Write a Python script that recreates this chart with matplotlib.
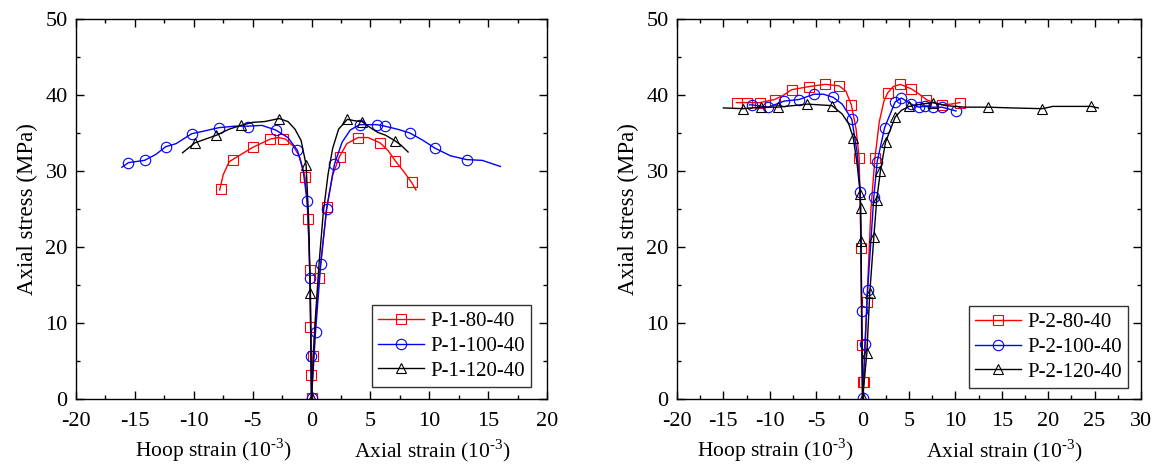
import matplotlib
matplotlib.use("Agg")
import matplotlib.pyplot as plt
from matplotlib.ticker import MultipleLocator

plt.rcParams['font.family'] = ['Liberation Serif', 'DejaVu Serif']
plt.rcParams['mathtext.fontset'] = 'custom'
plt.rcParams['mathtext.rm'] = 'Liberation Serif'
plt.rcParams['axes.unicode_minus'] = False
plt.rcParams['font.size'] = 15

# ---------------- left panel (P-1 series) ----------------
# hoop strain plotted as negative x, axial strain as positive x (10^-3), stress in MPa
p1_80_x = [-7.8, -7.5, -7.0, -6.6, -5.0, -3.5, -2.8, -2.2, -1.5, -1.0, -0.55, -0.3, -0.15, -0.05, 0,
           0.12, 0.64, 1.31, 1.8, 2.38, 3.0, 3.96, 4.8, 5.82, 6.5, 7.13, 7.8, 8.5, 8.87]
p1_80_y = [27.5, 29.5, 31.2, 31.6, 33.1, 34.2, 34.4, 34.2, 33.2, 31.8, 29.2, 24.5, 17.0, 8.0, 0,
           5.6, 15.9, 25.3, 29.5, 31.9, 33.6, 34.4, 34.4, 33.7, 32.7, 31.3, 30.0, 28.5, 27.5]
p1_80_mx = [-7.71, -6.65, -5.0, -3.5, -2.38, -0.55, -0.27, -0.15, -0.09, -0.03, 0,
            0.12, 0.64, 1.31, 2.38, 3.96, 5.82, 7.13, 8.5]
p1_80_my = [27.6, 31.4, 33.1, 34.2, 34.2, 29.2, 23.7, 17.0, 9.5, 3.2, 0.1,
            5.6, 15.9, 25.3, 31.9, 34.4, 33.7, 31.3, 28.5]

p1_100_x = [-16.1, -15.55, -14.18, -13.2, -12.38, -11.5, -10.18, -9.0, -7.87, -6.5, -5.4, -4.2, -3.05,
            -2.0, -1.19, -0.7, -0.37, -0.2, -0.12, -0.05, 0,
            0.34, 0.79, 1.28, 1.95, 2.6, 3.3, 4.09, 5.55, 6.22, 7.3, 8.35, 9.4, 10.49, 11.8, 13.17,
            14.5, 16.04]
p1_100_y = [30.5, 31.1, 31.4, 32.2, 33.2, 33.6, 34.9, 35.3, 35.7, 35.9, 35.9, 36.0, 35.4,
            34.4, 32.7, 30.0, 26.0, 20.0, 14.0, 6.0, 0,
            8.8, 17.8, 25.0, 30.9, 33.8, 35.4, 36.1, 36.1, 35.9, 35.5, 35.0, 34.1, 33.0, 32.0, 31.5,
            31.4, 30.6]
p1_100_mx = [-15.55, -14.18, -12.38, -10.18, -7.87, -5.4, -3.05, -1.19, -0.37, -0.15, -0.03, 0,
             0.34, 0.79, 1.28, 1.95, 4.09, 5.55, 6.22, 8.35, 10.49, 13.17]
p1_100_my = [31.1, 31.4, 33.2, 34.9, 35.7, 35.8, 35.4, 32.7, 26.0, 15.9, 5.6, 0.1,
             8.8, 17.8, 25.0, 30.9, 36.1, 36.1, 35.9, 35.0, 33.0, 31.5]

p1_120_x = [-10.95, -9.91, -9.0, -8.08, -7.0, -6.0, -5.0, -4.0, -2.74, -2.0, -1.4, -0.88, -0.46,
            -0.25, -0.09, 0,
            0.3, 0.65, 1.0, 1.4, 1.8, 2.3, 3.05, 3.7, 4.3, 5.0, 5.6, 6.3, 7.07, 7.6, 8.2]
p1_120_y = [32.4, 33.7, 34.2, 34.7, 35.5, 36.0, 36.4, 36.5, 36.9, 36.5, 35.5, 34.0, 30.8,
            24.0, 13.9, 0,
            10.0, 18.0, 24.5, 29.5, 33.0, 35.5, 36.8, 36.6, 36.5, 35.7, 35.1, 34.7, 34.0, 33.4, 32.5]
p1_120_mx = [-9.91, -8.08, -6.0, -2.74, -0.46, -0.09, 0, 3.05, 4.3, 7.07]
p1_120_my = [33.7, 34.7, 36.0, 36.9, 30.8, 13.9, 0.1, 36.8, 36.5, 34.0]

# ---------------- right panel (P-2 series) ----------------
p2_80_x = [-13.6, -12.43, -11.08, -9.49, -8.5, -7.63, -5.81, -4.03, -2.52, -1.8, -1.21, -0.7, -0.37,
           -0.17, -0.1, 0,
           0.14, 0.46, 0.9, 1.33, 1.8, 2.3, 2.71, 3.3, 4.07, 5.26, 6.0, 6.88, 7.6, 8.59, 9.5, 10.49]
p2_80_y = [39.0, 39.0, 39.0, 39.4, 40.0, 40.7, 41.1, 41.4, 41.2, 40.5, 38.7, 35.5, 31.7,
           19.9, 7.1, 0,
           2.3, 12.8, 25.0, 31.7, 36.5, 39.2, 40.3, 41.1, 41.4, 40.8, 40.2, 39.4, 39.0, 38.7, 38.8, 39.0]
p2_80_mx = [-13.58, -12.43, -11.08, -9.49, -7.63, -5.81, -4.03, -2.52, -1.21, -0.37, -0.17, -0.1, 0,
            0.14, 0.46, 1.33, 2.71, 4.07, 5.26, 6.88, 8.59, 10.49]
p2_80_my = [38.95, 39.0, 39.0, 39.4, 40.7, 41.1, 41.4, 41.2, 38.7, 31.7, 19.9, 7.1, 2.3,
            2.3, 12.8, 31.7, 40.3, 41.4, 40.8, 39.4, 38.7, 39.0]

p2_100_x = [-12.2, -11.9, -10.16, -8.45, -6.87, -5.24, -4.2, -3.18, -2.2, -1.16, -0.6, -0.25, -0.1, 0,
            0.25, 0.54, 1.21, 1.57, 2.37, 3.51, 4.19, 5.26, 6.05, 6.68, 7.55, 8.54, 10.06]
p2_100_y = [38.7, 38.7, 38.4, 39.2, 39.4, 40.1, 40.1, 39.7, 38.8, 36.8, 32.5, 27.3, 11.6, 0,
            7.2, 14.3, 26.6, 31.2, 35.7, 39.1, 39.6, 38.8, 38.4, 38.5, 38.4, 38.4, 37.9]
p2_100_mx = [-11.9, -10.16, -8.45, -6.87, -5.24, -3.18, -1.16, -0.25, -0.1, 0,
             0.25, 0.54, 1.21, 1.57, 2.37, 3.51, 4.19, 5.26, 6.05, 6.68, 7.55, 8.54, 10.06]
p2_100_my = [38.7, 38.4, 39.2, 39.4, 40.1, 39.7, 36.8, 27.3, 11.6, 0.1,
             7.2, 14.3, 26.6, 31.2, 35.7, 39.1, 39.6, 38.8, 38.4, 38.5, 38.4, 38.4, 37.9]

p2_120_x = [-15.0, -12.9, -11.0, -9.17, -7.5, -5.96, -3.3, -2.2, -1.5, -1.01, -0.6, -0.25, -0.21,
            -0.17, -0.08, 0,
            0.46, 0.77, 1.21, 1.52, 1.92, 2.47, 3.51, 4.2, 5.02, 6.3, 7.59, 9.0, 11.0, 13.47, 16.0,
            19.37, 20.5, 24.6, 25.4]
p2_120_y = [38.3, 38.2, 38.4, 38.4, 38.6, 38.8, 38.6, 37.5, 36.2, 34.4, 31.0, 27.0, 25.1,
            20.8, 10.0, 0,
            6.1, 13.9, 21.3, 26.2, 30.0, 33.8, 37.1, 38.0, 38.5, 38.8, 39.0, 38.6, 38.4, 38.4, 38.3,
            38.2, 38.5, 38.5, 38.3]
p2_120_mx = [-12.9, -11.0, -9.17, -5.96, -3.3, -1.01, -0.25, -0.21, -0.17, 0,
             0.46, 0.77, 1.21, 1.52, 1.92, 2.47, 3.51, 5.02, 7.59, 13.47, 19.37, 24.6]
p2_120_my = [38.2, 38.4, 38.4, 38.8, 38.6, 34.4, 27.0, 25.1, 20.8, 0.1,
             6.1, 13.9, 21.3, 26.2, 30.0, 33.8, 37.1, 38.5, 39.0, 38.4, 38.2, 38.5]

labels1 = ["P-1-80-40", "P-1-100-40", "P-1-120-40"]
labels2 = ["P-2-80-40", "P-2-100-40", "P-2-120-40"]
colors = ["#ff0000", "#0000ff", "#000000"]
markers = ["s", "o", "^"]


def draw_series(ax, lx, ly, mx, my, color, marker, label):
    ax.plot(lx, ly, color=color, lw=1.0)
    ax.plot(mx, my, ls="none", marker=marker, ms=7.5, mfc="none", mec=color, mew=0.8)
    # legend proxy
    ax.plot([], [], color=color, lw=1.0, marker=marker, ms=7.5, mfc="none", mec=color,
            mew=0.8, label=label)


def style_axes(ax, xmax):
    ax.set_xlim(-20, xmax)
    ax.set_ylim(0, 50)
    ax.xaxis.set_major_locator(MultipleLocator(5))
    ax.xaxis.set_minor_locator(MultipleLocator(2.5))
    ax.yaxis.set_major_locator(MultipleLocator(10))
    ax.yaxis.set_minor_locator(MultipleLocator(5))
    ax.tick_params(which="both", direction="in", top=True, right=True, width=1.0, labelsize=16)
    ax.tick_params(which="major", length=6)
    ax.tick_params(which="minor", length=3)
    ax.tick_params(axis="x", which="major", pad=9)
    ax.tick_params(axis="y", which="major", pad=6)
    for s in ax.spines.values():
        s.set_linewidth(1.0)
    ax.set_ylabel("Axial stress (MPa)", fontsize=16.5, labelpad=5)


fig = plt.figure(figsize=(11.55, 4.66), dpi=100)
ax1 = fig.add_axes([76 / 1155, 67 / 466, 471 / 1155, 380 / 466])
ax2 = fig.add_axes([677 / 1155, 67 / 466, 464 / 1155, 380 / 466])

draw_series(ax1, p1_80_x, p1_80_y, p1_80_mx, p1_80_my, colors[0], markers[0], labels1[0])
draw_series(ax1, p1_100_x, p1_100_y, p1_100_mx, p1_100_my, colors[1], markers[1], labels1[1])
draw_series(ax1, p1_120_x, p1_120_y, p1_120_mx, p1_120_my, colors[2], markers[2], labels1[2])

draw_series(ax2, p2_80_x, p2_80_y, p2_80_mx, p2_80_my, colors[0], markers[0], labels2[0])
draw_series(ax2, p2_100_x, p2_100_y, p2_100_mx, p2_100_my, colors[1], markers[1], labels2[1])
draw_series(ax2, p2_120_x, p2_120_y, p2_120_mx, p2_120_my, colors[2], markers[2], labels2[2])

style_axes(ax1, 20)
style_axes(ax2, 30)

hoop_txt = r"Hoop strain (10$^{\text{-3}}$)"
axial_txt = r"Axial strain (10$^{\text{-3}}$)"
ax1.text(0.291, -0.135, hoop_txt, transform=ax1.transAxes, ha="center", va="center", fontsize=15.5)
ax1.text(0.756, -0.135, axial_txt, transform=ax1.transAxes, ha="center", va="center", fontsize=15.5)
ax2.text(0.211, -0.135, hoop_txt, transform=ax2.transAxes, ha="center", va="center", fontsize=15.5)
ax2.text(0.705, -0.135, axial_txt, transform=ax2.transAxes, ha="center", va="center", fontsize=15.5)

for ax, anchor in [(ax1, (0.966, 0.032)), (ax2, (0.972, 0.029))]:
    leg = ax.legend(loc="lower right", bbox_to_anchor=anchor, borderaxespad=0, fontsize=15,
                    handlelength=2.2, handletextpad=0.3, labelspacing=0.25, borderpad=0.3,
                    fancybox=False, edgecolor="#333333", framealpha=1)
    leg.get_frame().set_linewidth(1.0)

fig.savefig("out.png", dpi=100)
